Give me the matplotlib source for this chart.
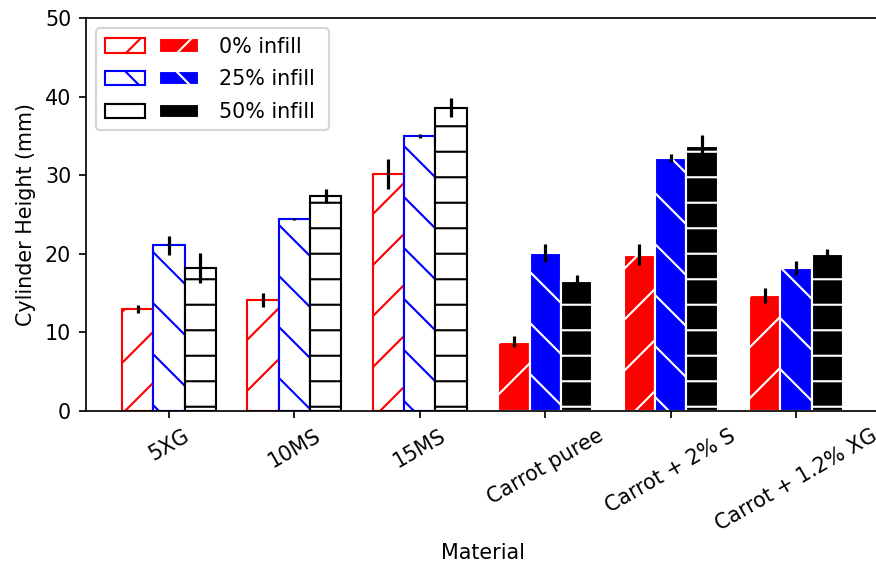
import numpy as np
import matplotlib
matplotlib.use("Agg")
import matplotlib.pyplot as plt
from matplotlib.patches import Patch
from matplotlib.legend_handler import HandlerTuple

materials = ["5XG", "10MS", "15MS", "Carrot puree", "Carrot + 2% S", "Carrot + 1.2% XG"]
infill_labels = ["0% infill", "25% infill", "50% infill"]

height_0 = [13.0, 14.1, 30.1, 8.8, 19.9, 14.7]
height_25 = [21.1, 24.4, 35.0, 20.1, 32.2, 18.2]
height_50 = [18.2, 27.3, 38.6, 16.6, 33.7, 20.0]

err_0 = [0.5, 0.9, 1.9, 0.7, 1.35, 0.95]
err_25 = [1.2, 0.1, 0.3, 1.2, 0.55, 0.85]
err_50 = [1.9, 0.9, 1.2, 0.65, 1.4, 0.6]

colors = ["red", "blue", "black"]
hatches = ["/", "\\", "-"]
n_hollow = 3  # first three materials are drawn hollow, the rest filled

plt.rcParams["font.size"] = 9.7

DPI = 153
W, H = 876, 569          # final image size in pixels
OX, OY = 11, 14          # extra margin rendered on the left / top, trimmed afterwards
CW, CH = W + OX, H + OY  # rendering canvas size

fig = plt.figure(figsize=(CW / DPI, CH / DPI), dpi=DPI)
ax = fig.add_axes([(86 + OX) / CW, 158 / CH, 793 / CW, 393 / CH])

x = np.arange(len(materials))
width = 0.25
series = [height_0, height_25, height_50]
errors = [err_0, err_25, err_50]

for k, (vals, errs, col, hat) in enumerate(zip(series, errors, colors, hatches)):
    pos = x + (k - 1) * width
    vals = np.asarray(vals)
    errs = np.asarray(errs)
    # hollow bars with coloured hatch
    ax.bar(pos[:n_hollow], vals[:n_hollow], width, color="white",
           edgecolor=col, hatch=hat, linewidth=1.0)
    # filled bars with white hatch
    ax.bar(pos[n_hollow:], vals[n_hollow:], width, color=col,
           edgecolor="white", hatch=hat, linewidth=1.0)
    ax.errorbar(pos, vals, yerr=errs, fmt="none", ecolor="black",
                elinewidth=1.5, capsize=0, zorder=5)

ax.set_xlim(-0.6625, 5.6625)
ax.set_ylim(0, 50)
ax.set_xticks(x)
ax.set_xticklabels(materials, rotation=30, ha="center")
ax.set_ylabel("Cylinder Height (mm)")
ax.set_xlabel("Material")

handles = []
for col, hat in zip(colors, hatches):
    hollow = Patch(facecolor="white", edgecolor=col, hatch=hat, linewidth=1.0)
    filled = Patch(facecolor=col, edgecolor="white", hatch=hat, linewidth=1.0)
    handles.append((hollow, filled))

ax.legend(handles, [lab + " " for lab in infill_labels], loc="upper left",
          handlelength=4.6, handletextpad=0.95, labelspacing=0.62,
          handler_map={tuple: HandlerTuple(ndivide=None, pad=0.65)})

# render, then trim the extra margin so the final image is W x H
fig.canvas.draw()
img = np.asarray(fig.canvas.buffer_rgba())
plt.imsave("out.png", img[OY:OY + H, OX:OX + W])
